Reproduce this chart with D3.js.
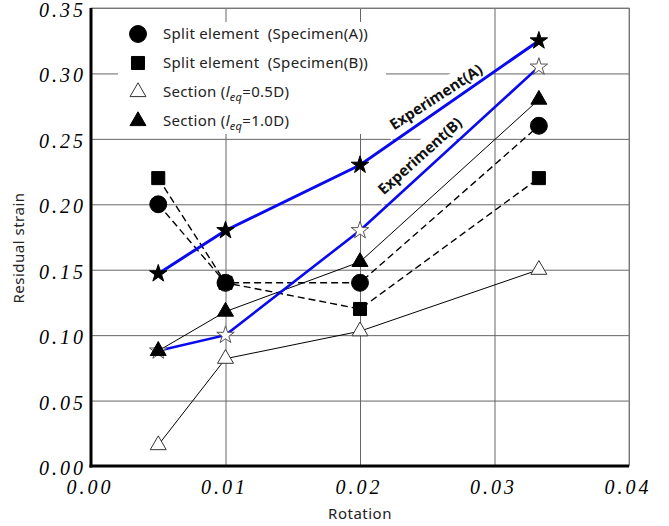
<!DOCTYPE html>
<html>
<head>
<meta charset="utf-8">
<script src="https://cdn.jsdelivr.net/npm/d3@7"></script>
<style>
  body { margin: 0; background: #fff; }
  svg { display: block; }
  .sans { font-family: "Noto Sans", "Open Sans", sans-serif; }
  .tick-label { font-family: "Liberation Serif", "DejaVu Serif", serif; font-style: italic; font-size: 20px; letter-spacing: 3px; }
</style>
</head>
<body>
<svg id="chart" width="669" height="526"></svg>
<script>
// data
const rotation = [0.005, 0.01, 0.02, 0.0333];
const splitA = [0.20, 0.14, 0.14, 0.26];
const splitB = [0.22, 0.14, 0.12, 0.22];
const section05 = [0.016, 0.082, 0.103, 0.15];
const section10 = [0.088, 0.118, 0.156, 0.28];
const experimentA = [0.147, 0.18, 0.23, 0.325];
const experimentB = [0.088, 0.10, 0.18, 0.305];

const xTicks = [0, 0.01, 0.02, 0.03, 0.04];
const yTicks = [0, 0.05, 0.10, 0.15, 0.20, 0.25, 0.30, 0.35];

const svg = d3.select('#chart');

const plotLeft = 91, plotRight = 629, plotTop = 8, plotBottom = 466;

const x = d3.scaleLinear().domain([0, 0.04]).range([plotLeft, plotRight]);
const y = d3.scaleLinear().domain([0, 0.35]).range([plotBottom, plotTop]);

// grille
const grid = svg.append('g');
grid.append('g')
  .attr('transform', `translate(0, ${plotBottom})`)
  .call(d3.axisBottom(x).tickValues(xTicks).tickSize(-(plotBottom - plotTop)).tickFormat(''))
  .call(g => g.select('.domain').remove())
  .selectAll('line').attr('stroke', '#666').attr('stroke-width', 1);
grid.append('g')
  .attr('transform', `translate(${plotLeft}, 0)`)
  .call(d3.axisLeft(y).tickValues(yTicks).tickSize(-(plotRight - plotLeft)).tickFormat(''))
  .call(g => g.select('.domain').remove())
  .selectAll('line').attr('stroke', '#666').attr('stroke-width', 1);

// cadre
svg.append('rect')
  .attr('x', plotLeft).attr('y', plotTop)
  .attr('width', plotRight - plotLeft).attr('height', plotBottom - plotTop)
  .attr('fill', 'none').attr('stroke', '#888').attr('stroke-width', 1);

// fond de la légende
svg.append('rect')
  .attr('x', 118).attr('y', 22).attr('width', 268).attr('height', 112)
  .attr('fill', '#fff');

// fond des étiquettes Experiment
const labels = [
  { text: 'Experiment(A)', cx: 436, cy: 97, angle: -33, w: 122 },
  { text: 'Experiment(B)', cx: 420, cy: 156, angle: -42, w: 122 }
];
labels.forEach(l => {
  svg.append('rect')
    .attr('x', -l.w / 2).attr('y', -12).attr('width', l.w).attr('height', 24)
    .attr('fill', '#fff')
    .attr('transform', `translate(${l.cx}, ${l.cy}) rotate(${l.angle})`);
});

// séries
const series = [
  { values: section05, color: '#000', width: 1, dash: null },
  { values: section10, color: '#000', width: 1, dash: null },
  { values: splitA, color: '#000', width: 1.4, dash: '7,4' },
  { values: splitB, color: '#000', width: 1.4, dash: '7,4' },
  { values: experimentB, color: '#0a0af0', width: 2.6, dash: null },
  { values: experimentA, color: '#0a0af0', width: 3, dash: null }
];

const line = d3.line()
  .x((d, i) => x(rotation[i]))
  .y(d => y(d));

series.forEach(s => {
  svg.append('path')
    .datum(s.values)
    .attr('d', line)
    .attr('fill', 'none')
    .attr('stroke', s.color)
    .attr('stroke-width', s.width)
    .attr('stroke-dasharray', s.dash);
});

// marqueurs
const markers = {
  openStar: { type: d3.symbolStar, size: 95, fill: '#fff', stroke: '#555' },
  star: { type: d3.symbolStar, size: 95, fill: '#000', stroke: '#000' },
  openTri: { type: d3.symbolTriangle, size: 110, fill: '#fff', stroke: '#333' },
  tri: { type: d3.symbolTriangle, size: 110, fill: '#000', stroke: '#000' },
  square: { type: d3.symbolSquare, size: 170, fill: '#000', stroke: '#000' },
  circle: { type: d3.symbolCircle, size: 225, fill: '#000', stroke: '#000' }
};

function drawMarkers(values, m) {
  svg.append('g').selectAll('path')
    .data(values)
    .enter()
    .append('path')
    .attr('d', d3.symbol().type(m.type).size(m.size))
    .attr('transform', (d, i) => `translate(${x(rotation[i])}, ${y(d)})`)
    .attr('fill', m.fill)
    .attr('stroke', m.stroke)
    .attr('stroke-width', 1);
}

drawMarkers(experimentB, markers.openStar);
drawMarkers(section05, markers.openTri);
drawMarkers(splitB, markers.square);
drawMarkers(splitA, markers.circle);
drawMarkers(section10, markers.tri);
drawMarkers(experimentA, markers.star);

// axes épais
svg.append('line')
  .attr('x1', plotLeft).attr('x2', plotLeft).attr('y1', plotTop).attr('y2', plotBottom + 1.5)
  .attr('stroke', '#000').attr('stroke-width', 3);
svg.append('line')
  .attr('x1', plotLeft - 1.5).attr('x2', plotRight).attr('y1', plotBottom).attr('y2', plotBottom)
  .attr('stroke', '#000').attr('stroke-width', 3);

// étiquettes des graduations
svg.append('g').selectAll('text')
  .data(yTicks)
  .enter()
  .append('text')
  .attr('class', 'tick-label')
  .attr('x', 86)
  .attr('y', d => y(d) + 9)
  .attr('text-anchor', 'end')
  .text(d => d.toFixed(2));

svg.append('g').selectAll('text')
  .data(xTicks)
  .enter()
  .append('text')
  .attr('class', 'tick-label')
  .attr('x', d => x(d) - 1)
  .attr('y', 494)
  .attr('text-anchor', 'middle')
  .text(d => d.toFixed(2));

// titres des axes
svg.append('text')
  .attr('class', 'sans')
  .attr('transform', 'translate(24, 248) rotate(-90)')
  .attr('text-anchor', 'middle')
  .attr('font-size', 15)
  .attr('letter-spacing', 0.5)
  .attr('fill', '#222')
  .text('Residual strain');

svg.append('text')
  .attr('class', 'sans')
  .attr('x', 360).attr('y', 519)
  .attr('text-anchor', 'middle')
  .attr('font-size', 15)
  .attr('letter-spacing', 0.5)
  .attr('fill', '#222')
  .text('Rotation');

// étiquettes Experiment
labels.forEach(l => {
  svg.append('text')
    .attr('class', 'sans')
    .attr('transform', `translate(${l.cx}, ${l.cy}) rotate(${l.angle})`)
    .attr('text-anchor', 'middle')
    .attr('dy', '0.35em')
    .attr('font-size', 15)
    .attr('font-weight', 'bold')
    .attr('fill', '#111')
    .text(l.text);
});

// légende
const legendItems = [
  { marker: markers.circle, label: 'Split element  (Specimen(A))' },
  { marker: markers.square, label: 'Split element  (Specimen(B))' },
  { marker: markers.openTri, label: 'Section (', sub: '=0.5D)' },
  { marker: markers.tri, label: 'Section (', sub: '=1.0D)' }
];

const legend = svg.append('g');
legendItems.forEach((it, i) => {
  const ly = 34 + i * 29;
  legend.append('path')
    .attr('d', d3.symbol().type(it.marker.type).size(it.marker.size))
    .attr('transform', `translate(138, ${ly})`)
    .attr('fill', it.marker.fill)
    .attr('stroke', it.marker.stroke);
  const t = legend.append('text')
    .attr('class', 'sans')
    .attr('x', 163).attr('y', ly + 5)
    .attr('font-size', 15)
    .attr('letter-spacing', 0.3)
    .attr('fill', '#222')
    .style('white-space', 'pre');
  t.append('tspan').text(it.label);
  if (it.sub) {
    t.append('tspan').attr('font-style', 'italic').text('l');
    t.append('tspan').attr('font-style', 'italic').attr('font-size', 11).attr('dy', 4).text('eq');
    t.append('tspan').attr('dy', -4).text(it.sub);
  }
});
</script>
</body>
</html>
